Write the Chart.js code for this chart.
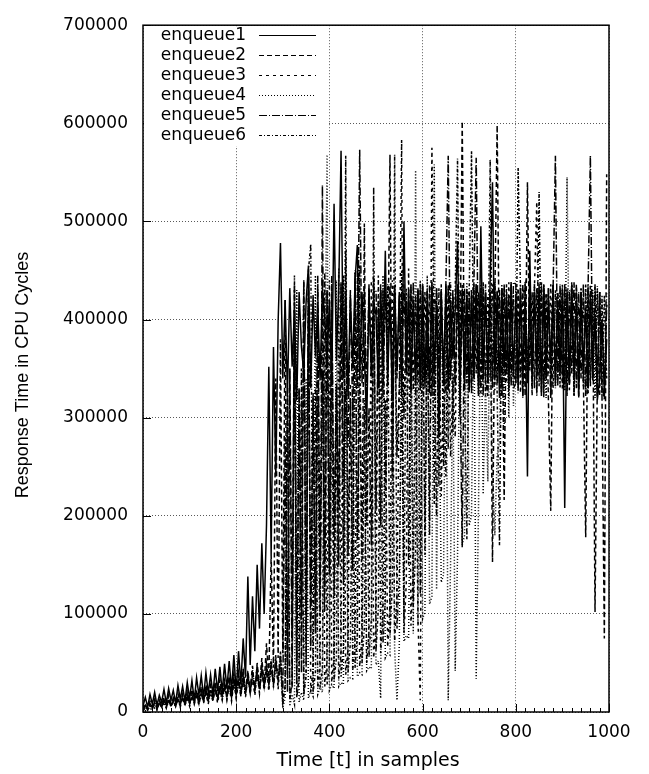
<!DOCTYPE html>
<html>
<head>
<meta charset="utf-8">
<script src="https://cdn.jsdelivr.net/npm/chart.js@4.4.0/dist/chart.umd.min.js"></script>
<style>
  html, body { margin: 0; padding: 0; background: #fff; }
  canvas { display: block; }
</style>
</head>
<body>
<canvas id="responseChart" width="649" height="774"></canvas>
<script>
// ==========================================
// 1. DATA (response time in thousands of CPU cycles)
// ==========================================
const samples = [
  0,5,10,15,20,25,30,35,40,45,50,55,60,65,70,75,80,85,90,95,
  100,105,110,115,120,125,130,135,140,145,150,155,160,165,170,175,180,185,190,195,
  200,205,210,215,220,225,230,235,240,245,250,255,260,265,270,275,280,285,290,295,
  300,305,310,315,320,325,330,335,340,345,350,355,360,365,370,375,380,385,390,395,
  400,405,410,415,420,425,430,435,440,445,450,455,460,465,470,475,480,485,490,495,
  500,505,510,515,520,525,530,535,540,545,550,555,560,565,570,575,580,585,590,595,
  600,605,610,615,620,625,630,635,640,645,650,655,660,665,670,675,680,685,690,695,
  700,705,710,715,720,725,730,735,740,745,750,755,760,765,770,775,780,785,790,795,
  800,805,810,815,820,825,830,835,840,845,850,855,860,865,870,875,880,885,890,895,
  900,905,910,915,920,925,930,935,940,945,950,955,960,965,970,975,980,985,990,995
];

const enqueue1 = [
  6,15,5,18,8,20,7,17,10,23,9,24,12,22,9,27,13,26,11,30,
  14,32,12,35,17,37,15,40,19,38,18,44,21,46,20,49,24,52,22,58,
  20,62,28,75,35,138,48,118,62,150,85,172,100,190,352,160,372,240,398,478,
  340,420,325,432,352,410,318,428,372,345,418,455,330,425,362,415,338,430,402,355,
  420,332,518,358,430,572,340,428,322,425,350,440,476,338,428,365,290,432,345,418,
  405,330,430,355,470,335,422,318,435,348,428,332,500,345,430,325,420,340,432,328,
  430,335,418,325,432,350,415,280,428,338,435,328,420,360,410,480,322,430,342,425,
  328,430,340,435,322,495,345,425,335,440,540,338,428,320,432,350,418,330,438,342,
  425,328,432,345,415,240,470,335,428,348,436,322,430,340,420,355,432,332,418,350,
  430,208,425,335,435,340,418,322,428,350,410,330,425,345,405,318,340,400,325,380
];

const enqueue2 = [
  2,8,3,11,5,13,6,12,7,15,5,17,8,14,6,19,9,18,7,21,
  9,23,11,22,12,26,10,28,14,27,15,31,13,33,16,32,17,36,15,39,
  18,40,16,44,20,42,22,47,19,50,24,55,26,70,35,160,45,340,55,380,
  60,420,45,350,80,435,52,330,95,440,70,410,110,325,88,445,125,348,102,430,
  140,445,118,330,150,438,130,470,160,320,145,448,175,335,155,498,190,310,170,442,
  205,420,190,430,220,338,568,240,425,260,330,432,300,418,342,435,328,425,338,436,
  335,428,348,435,322,422,415,332,430,345,325,432,348,425,335,436,345,602,330,428,
  425,330,436,345,428,325,438,340,322,428,153,422,598,335,432,216,425,340,435,330,
  335,430,345,436,322,540,348,428,330,432,342,438,325,425,318,205,436,338,428,345,
  428,335,432,328,422,348,436,320,425,340,178,430,332,425,102,338,428,320,75,548
];

const enqueue3 = [
  1,6,2,8,3,10,2,9,5,12,4,13,5,11,6,15,5,16,7,14,
  6,17,8,16,7,20,9,19,8,22,11,24,9,23,12,27,13,26,11,30,
  14,31,16,34,15,37,18,36,17,41,19,43,22,46,21,50,25,55,23,58,
  8,28,330,12,32,430,15,36,350,18,40,445,20,44,330,24,48,440,26,52,
  440,30,56,320,34,60,445,38,65,335,42,70,450,46,76,310,50,82,440,55,
  90,445,60,100,318,66,110,440,72,120,330,583,80,132,452,88,145,325,96,12,
  435,160,430,180,575,335,200,432,220,345,240,436,260,338,280,430,300,425,328,432,
  325,430,340,436,350,332,428,322,425,340,436,328,430,348,322,432,335,438,345,425,
  335,432,325,425,436,340,428,322,432,520,332,435,320,428,345,436,330,430,338,425,
  328,432,345,335,436,322,428,340,432,332,425,325,436,338,348,430,322,420,325,415
];

const enqueue4 = [
  3,1,5,2,6,4,7,5,6,9,5,10,7,9,6,12,9,13,7,15,
  10,14,9,16,12,15,13,19,10,18,14,21,16,20,13,23,17,24,16,27,
  19,26,21,29,20,32,23,30,26,35,25,38,28,36,30,41,29,44,33,46,
  4,15,320,6,18,8,430,10,20,12,340,14,22,16,445,18,25,20,330,568,
  22,28,24,440,26,30,28,330,32,35,34,450,36,40,38,320,42,46,44,445,
  48,52,14,445,55,60,58,320,64,12,68,450,72,78,75,338,80,552,88,440,
  95,102,445,110,118,558,125,335,132,140,436,12,150,345,42,160,430,170,180,438,
  190,200,432,34,210,436,222,335,235,430,250,180,262,275,436,288,425,300,438,312,
  430,325,436,320,432,335,428,345,436,322,425,338,432,320,430,348,436,330,425,342,
  432,328,545,340,436,322,428,335,432,350,325,436,338,430,320,434,345,425,330,428
];

const enqueue5 = [
  2,7,3,6,5,10,3,9,6,12,5,13,7,11,6,15,9,14,8,17,
  9,16,12,19,10,18,13,22,12,21,15,24,13,27,16,25,18,29,15,32,
  18,30,20,34,19,37,22,35,25,40,23,44,26,42,29,48,28,52,32,56,
  15,280,20,350,25,410,30,330,40,440,50,445,65,320,80,432,100,537,125,430,
  150,432,180,335,210,436,240,328,270,430,300,438,330,573,335,432,320,436,340,428,
  430,335,436,322,428,348,436,330,432,340,425,322,436,345,428,332,438,325,430,340,
  436,330,430,342,438,322,432,350,425,332,436,567,338,430,325,436,345,168,432,335,
  428,325,436,565,338,432,322,436,350,428,330,438,335,430,322,436,345,425,332,438,
  436,340,428,322,438,335,430,350,436,325,428,338,436,345,432,320,430,567,332,436,
  335,436,322,430,345,438,330,428,340,436,322,430,567,338,436,325,428,335,318,415
];

const enqueue6 = [
  1,5,2,9,3,8,5,11,4,10,6,13,5,14,7,12,6,16,9,18,
  8,17,10,20,9,23,12,22,13,25,11,27,14,26,16,30,13,33,17,35,
  16,37,19,40,22,39,20,43,25,47,23,50,27,49,30,54,29,58,33,62,
  10,25,330,14,28,445,16,32,320,18,36,450,477,20,40,315,24,44,448,28,
  48,330,32,55,452,36,62,567,40,70,320,45,78,455,50,86,305,56,95,535,
  62,105,430,70,115,436,78,128,568,85,140,335,95,432,150,436,108,165,430,120,
  436,180,430,195,438,212,432,230,436,250,430,268,438,285,430,564,305,436,325,176,
  430,572,338,436,322,432,345,428,330,563,340,436,325,170,432,338,436,322,430,345,
  335,555,432,322,430,340,436,328,428,350,530,325,436,338,432,322,436,345,428,330,
  436,328,430,342,438,322,432,350,428,335,436,325,430,340,434,330,428,322,425,340
];

const seriesNames = ['enqueue1', 'enqueue2', 'enqueue3', 'enqueue4', 'enqueue5', 'enqueue6'];
const seriesValues = [enqueue1, enqueue2, enqueue3, enqueue4, enqueue5, enqueue6];

const xTickLabels = ['0', '200', '400', '600', '800', '1000'];
const yTickLabels = ['0', '100000', '200000', '300000', '400000', '500000', '600000', '700000'];

// gnuplot style line types
const dashStyles = [[], [5, 3], [3, 4], [1, 2], [8, 2, 1, 2], [3, 2, 1, 2]];

// ==========================================
// 2. FRAME, INNER TICKS, KEY AND TITLES
// ==========================================
const gnuplotDecor = {
  id: 'gnuplotDecor',
  afterDatasetsDraw(chart) {
    const { ctx, chartArea: a, scales: { x, y } } = chart;
    ctx.save();

    // inner tick marks
    ctx.strokeStyle = '#000';
    ctx.lineWidth = 1;
    ctx.setLineDash([]);
    ctx.beginPath();
    for (let v = 0; v <= 1000; v += 20) {
      const px = Math.round(x.getPixelForValue(v)) + 0.5;
      const len = v % 200 === 0 ? 8 : 4;
      ctx.moveTo(px, a.bottom);
      ctx.lineTo(px, a.bottom - len);
    }
    y.ticks.forEach(t => {
      const py = Math.round(y.getPixelForValue(t.value)) + 0.5;
      ctx.moveTo(a.left, py);
      ctx.lineTo(a.left + 8, py);
    });
    ctx.stroke();

    // key box (white, no border)
    ctx.fillStyle = '#fff';
    ctx.fillRect(a.left + 1, 27, 328 - a.left, 119);

    ctx.font = '17px "DejaVu Sans"';
    ctx.textAlign = 'right';
    ctx.textBaseline = 'middle';
    ctx.fillStyle = '#000';
    seriesNames.forEach((name, i) => {
      const ly = 35 + i * 19.9;
      ctx.fillText(name, 246, ly + 1);
      ctx.beginPath();
      ctx.setLineDash(dashStyles[i]);
      ctx.moveTo(259, Math.round(ly) + 0.5);
      ctx.lineTo(316, Math.round(ly) + 0.5);
      ctx.stroke();
    });
    ctx.setLineDash([]);

    // border
    ctx.lineWidth = 1.5;
    ctx.strokeRect(a.left, a.top, a.width, a.height);
    ctx.restore();
  },
  afterDraw(chart) {
    const { ctx } = chart;
    ctx.save();
    ctx.fillStyle = '#000';
    ctx.textAlign = 'center';
    ctx.textBaseline = 'middle';
    ctx.font = '19px "DejaVu Sans"';
    ctx.fillText('Time [t] in samples', 368, 761);
    ctx.translate(23, 375);
    ctx.rotate(-Math.PI / 2);
    ctx.font = '18px "Liberation Sans"';
    ctx.fillText('Response Time in CPU Cycles', 0, 0);
    ctx.restore();
  }
};

// ==========================================
// 3. CHART
// ==========================================
const gridLine = { color: 'rgba(0,0,0,0.65)', lineWidth: 1, drawTicks: false };
const tickFont = { family: 'DejaVu Sans', size: 17 };

new Chart(document.getElementById('responseChart').getContext('2d'), {
  type: 'line',
  data: {
    datasets: seriesValues.map((vals, i) => ({
      label: seriesNames[i],
      data: samples.map((t, j) => ({ x: t, y: vals[j] })),
      borderColor: '#000',
      borderWidth: 1.5,
      borderDash: dashStyles[i],
      pointRadius: 0,
      fill: false,
      tension: 0,
      order: seriesNames.length - i
    }))
  },
  options: {
    responsive: false,
    animation: false,
    devicePixelRatio: 1,
    layout: { padding: { top: 16, right: 40, left: 0, bottom: 0 } },
    plugins: { legend: { display: false }, tooltip: { enabled: false } },
    scales: {
      x: {
        type: 'linear',
        min: 0,
        max: 1000,
        afterFit: s => { s.height = 62; },
        grid: gridLine,
        border: { display: false, dash: [1, 2] },
        ticks: {
          stepSize: 200,
          padding: 10,
          color: '#000',
          font: tickFont,
          maxRotation: 0,
          autoSkip: false,
          callback: (v, i) => xTickLabels[i]
        }
      },
      y: {
        min: 0,
        max: 700,
        afterFit: s => { s.width = 143; },
        grid: gridLine,
        border: { display: false, dash: [1, 2] },
        ticks: {
          stepSize: 100,
          padding: 15,
          color: '#000',
          font: tickFont,
          callback: (v, i) => yTickLabels[i]
        }
      }
    }
  },
  plugins: [gnuplotDecor]
});
</script>
</body>
</html>
